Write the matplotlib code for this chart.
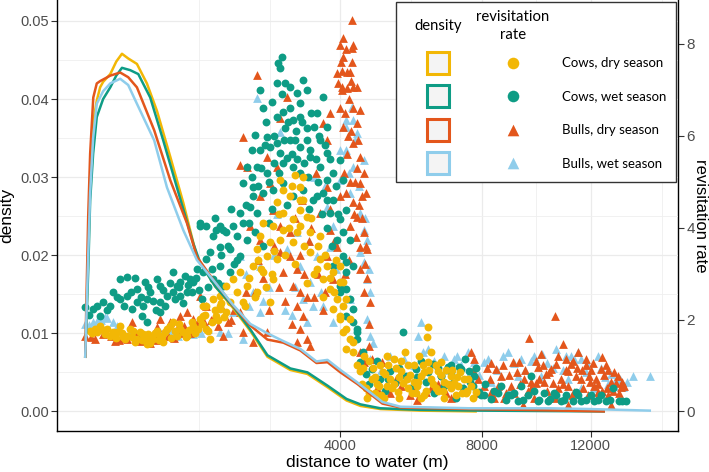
import matplotlib
matplotlib.use("Agg")
import matplotlib.pyplot as plt
import numpy as np
from matplotlib.patches import Rectangle

plt.rcParams['font.family'] = ['Liberation Sans', 'DejaVu Sans']

# colours of the four groups
col_cows_dry = "#F2B705"
col_cows_wet = "#0E9C85"
col_bulls_dry = "#E3561C"
col_bulls_wet = "#8FCDEB"

SCALE = 170  # revisitation rate = density * SCALE (secondary axis)

# ---------------- revisitation rate points (distance m, rate) ----------------
cows_dry_dist = [287, 332, 353, 404, 427, 482, 506, 532, 566, 621, 658, 716, 756, 766, 818, 862,
                 895, 928, 974, 1045, 1094, 1130, 1219, 1298, 1392, 1434, 1476, 1534, 1622, 1683, 1775,
                 300, 320, 370, 390, 450, 470, 520, 550, 590, 610, 640, 680, 700, 730, 780, 800, 840,
                 880, 910, 950, 1000, 1020, 1070, 1110, 1160, 1200, 1240, 1280, 1320, 1360, 1420, 1460,
                 1500, 1560, 1600, 1650, 1700, 1740,
                 1434, 1476, 1578, 1683, 1683, 1775, 1838, 1886, 1951, 2000, 2050, 2117, 2221, 2291,
                 2291, 2345, 2399, 2399, 2473, 2528, 2528, 2585, 2585, 2660, 2660, 2718, 2718, 2776,
                 2776, 2776, 2914, 2975, 2975, 3015, 3117, 3117, 3117, 3180, 3180, 3264, 3328, 3328,
                 3479, 3545, 3545, 3611, 3702, 3769, 3837, 3837, 3929, 4000, 4000, 4000, 4000, 4071,
                 4071, 4071, 4142, 4142, 4142, 4237, 4237, 4310, 4310, 4408,
                 2150, 2250, 2350, 2450, 2600, 2700, 2800, 2880, 2950, 3050, 3100, 3200, 3350, 3400,
                 3500, 3600, 3650, 3750, 3850, 3900, 2080, 2300, 2550, 3250, 3000,
                 4482, 4632, 4784, 4991, 5170, 5337, 5528, 5723, 5723, 5893, 6093, 6268, 6298, 6298,
                 6385, 6594, 6685, 6777, 6991, 7209, 7400, 7624, 4861, 5122, 5446, 5950, 6534, 7148,
                 7464, 7787, 4550, 4700, 4900, 5050, 5250, 5400, 5600, 5800, 6000, 6150, 6400, 6600,
                 6850, 7000, 7300, 7500, 4650, 5000, 5500, 6200, 6800, 7100, 5150, 5650, 6050,
                 4520, 4580, 4700, 4800, 4950, 5080, 5200, 5300, 5480, 5550, 5700, 5850, 5900, 6020,
                 6180, 6250, 6350, 6450, 6550, 6700, 6750, 6900, 7050, 7200, 7350, 7550, 7700, 4850,
                 5350, 6100]
cows_dry_rate = [1.75, 1.73, 1.86, 1.80, 1.65, 1.73, 1.86, 1.62, 1.65, 1.75, 1.58, 1.69, 1.47, 1.69,
                 1.58, 1.75, 1.65, 1.52, 1.80, 1.95, 1.65, 1.80, 1.65, 1.86, 2.01, 2.29, 1.80, 1.58,
                 2.08, 2.29, 2.16,
                 1.70, 1.80, 1.78, 1.68, 1.72, 1.60, 1.70, 1.58, 1.80, 1.62, 1.52, 1.72, 1.55, 1.60,
                 1.50, 1.62, 1.70, 1.55, 1.65, 1.72, 1.85, 1.60, 1.75, 1.90, 1.72, 1.62, 1.78, 1.95,
                 1.70, 1.80, 1.90, 2.10, 1.75, 1.95, 2.20, 2.00, 2.35, 2.05,
                 2.08, 2.29, 2.45, 2.51, 2.23, 2.73, 2.38, 2.88, 2.60, 3.03, 2.38, 2.73, 3.16, 3.53,
                 2.60, 3.81, 4.11, 3.03, 3.38, 3.68, 2.38, 4.03, 2.88, 4.55, 3.31, 5.04, 3.74, 4.83,
                 4.33, 3.96, 4.68, 4.18, 3.68, 5.15, 4.89, 4.39, 4.03, 5.11, 4.61, 4.24, 3.90, 3.46,
                 3.10, 3.81, 3.31, 2.88, 3.16, 2.66, 3.03, 2.23, 2.45, 3.16, 2.81, 2.08, 2.01, 2.81,
                 2.29, 1.73, 2.45, 1.80, 1.36, 2.01, 1.58, 1.52, 1.30, 1.00,
                 2.90, 2.50, 3.10, 2.70, 3.50, 4.30, 3.40, 4.00, 4.90, 3.90, 4.60, 3.60, 4.20, 3.00,
                 3.60, 2.50, 3.40, 2.90, 2.60, 3.30, 2.30, 3.30, 3.00, 2.80, 3.20,
                 0.87, 0.50, 0.71, 1.00, 0.56, 1.15, 0.87, 1.00, 0.50, 0.65, 0.78, 1.62, 1.84, 1.08,
                 1.30, 0.87, 1.08, 0.65, 0.78, 0.56, 0.71, 0.56, 0.39, 0.82, 0.43, 0.39, 0.50, 0.35,
                 0.39, 0.43, 0.95, 1.10, 0.60, 0.85, 0.70, 0.95, 0.62, 0.80, 0.55, 1.00, 0.70, 0.45,
                 0.90, 0.50, 0.85, 0.45, 0.30, 0.35, 0.30, 0.35, 0.30, 0.62, 1.20, 1.30, 1.20,
                 0.60, 1.20, 0.40, 0.95, 0.55, 0.30, 1.00, 0.50, 0.75, 1.10, 0.70, 0.40, 1.00, 0.65,
                 0.85, 0.45, 0.90, 0.60, 1.00, 0.80, 0.45, 0.60, 0.90, 0.75, 0.40, 0.70, 0.30, 0.75,
                 0.60, 0.30]

cows_wet_dist = [257, 306, 353, 374, 427, 451, 506, 506, 566, 566, 611, 658, 658, 707, 716, 736,
                 756, 756, 787, 862, 895, 895, 895, 974, 1045, 1045, 1094, 1130, 1130, 1193, 1219,
                 1258, 1298, 1351,
                 280, 330, 400, 480, 540, 600, 640, 690, 760, 820, 850, 920, 950, 1000, 1060, 1120,
                 1160, 1230, 1280, 1330, 1380, 1420, 1500, 1560, 1650,
                 1392, 1392, 1434, 1476, 1476, 1534, 1578, 1578, 1622, 1683, 1683, 1683, 1729, 1729,
                 1775, 1838, 1838, 1886, 1951, 2000, 2000, 2050, 2050, 2117, 2117, 2169, 2204, 2221,
                 2221, 2256, 2291, 2291, 2345, 2345, 2399, 2399, 2473, 2473, 2528, 2566, 2585, 2660,
                 2660, 2680, 2718, 2718, 2757, 2776, 2776, 2776, 2815, 2815, 2855, 2914, 2914, 2975,
                 2975, 2975, 3056, 3117, 3117, 3117, 3180, 3180, 3264, 3264, 3328, 3328, 3392, 3479,
                 3479, 3545, 3545, 3611, 3611, 3702, 3702, 3702, 3769, 3837, 3837, 3837, 3929, 4000,
                 4000, 4000, 4000, 4071, 4071, 4071, 4142, 4142, 4142, 4142, 4142, 4237, 4237, 4310,
                 4310, 4310, 4408, 4408, 4408, 4482,
                 2440, 2600, 2900, 3050, 3250, 3400, 3650, 2750, 3150, 3500, 2300, 2560, 2850, 3300,
                 3700, 2150, 1950, 1800, 2600, 3000,
                 2100, 2200, 2350, 2420, 2500, 2650, 2700, 2790, 2870, 2950, 3020, 3100, 3200, 3280,
                 3350, 3450, 3520, 3580, 3680, 3750, 3800, 3900, 3950, 1850, 1900, 1700, 1600, 2250,
                 2400, 2500,
                 4607, 4784, 4991, 5256, 5391, 5584, 5667, 5950, 6238, 6445, 6685, 6898, 7053, 7241,
                 7368, 7559, 7722, 7885, 8051, 8284, 8522, 8625, 8867, 9220, 9327, 9579, 9688, 9946,
                 10168, 10318, 10545, 10812, 11280, 11597, 12122, 12616, 13163, 13461, 7951, 8972,
                 11005, 11398, 11999, 12408, 12907, 6991, 7304, 6685,
                 5100, 5800, 6500, 7150, 7700, 7800, 6100, 7450,
                 4550, 4700, 4900, 5200, 5500, 6000, 6300, 6600, 6800, 7000, 7600, 8100, 8400, 8800,
                 9100, 9400, 9800, 10000, 10400, 10650, 10950, 11500, 11800, 12300, 12800, 13300]
cows_wet_rate = [2.27, 2.23, 2.08, 2.38, 2.29, 2.60, 2.88, 2.45, 2.92, 2.51, 2.23, 2.38, 2.66, 2.08,
                 2.29, 2.81, 1.95, 2.45, 2.60, 2.88, 2.16, 2.38, 2.73, 2.51, 3.03, 2.60, 2.73, 2.51,
                 2.81, 2.94, 2.60, 2.88, 2.81, 3.10,
                 2.10, 2.30, 2.20, 2.50, 2.30, 2.60, 2.90, 2.50, 2.70, 2.40, 2.20, 2.65, 2.30, 2.80,
                 2.45, 2.70, 2.35, 2.75, 2.60, 2.90, 2.65, 2.45, 2.70, 3.10, 2.80,
                 4.11, 4.03, 3.03, 4.03, 3.31, 3.46, 3.81, 2.88, 3.96, 4.03, 3.59, 3.16, 3.96, 2.73,
                 3.90, 3.53, 3.03, 4.03, 3.81, 4.33, 3.38, 4.98, 4.11, 5.32, 3.74, 4.46, 5.69, 4.89,
                 4.68, 6.02, 5.32, 4.33, 6.99, 5.69, 6.60, 4.76, 5.97, 5.19, 5.76, 6.73, 4.83, 7.14,
                 5.84, 7.58, 7.47, 5.63, 7.71, 6.52, 5.41, 4.98, 7.16, 6.17, 5.52, 7.06, 5.91, 6.34,
                 5.32, 4.68, 6.93, 6.71, 5.76, 5.19, 7.21, 4.83, 6.99, 6.17, 5.69, 5.54, 4.61, 6.49,
                 4.68, 5.91, 5.32, 6.84, 4.76, 6.19, 5.63, 5.04, 4.33, 5.19, 4.61, 3.16, 3.74, 5.48,
                 4.18, 2.73, 2.60, 5.04, 3.90, 3.38, 4.39, 3.25, 3.03, 2.66, 2.08, 3.74, 2.45, 3.16,
                 2.23, 1.95, 1.80, 1.73, 1.58, 1.08,
                 6.30, 6.00, 6.60, 5.50, 5.90, 6.20, 5.80, 6.90, 6.30, 5.00, 4.90, 4.40, 4.50, 4.40,
                 4.60, 4.10, 3.30, 3.60, 5.40, 5.90,
                 4.50, 5.10, 5.30, 5.80, 5.00, 6.40, 5.20, 5.90, 6.30, 5.60, 6.10, 6.40, 5.40, 5.10,
                 6.50, 5.50, 6.00, 4.30, 4.00, 5.50, 3.60, 4.90, 4.30, 4.40, 3.20, 3.40, 4.20, 3.90,
                 3.60, 4.10,
                 0.82, 0.93, 0.71, 0.89, 0.61, 1.73, 0.78, 0.93, 0.65, 1.04, 0.76, 0.97, 0.61, 0.97,
                 0.50, 0.89, 0.78, 0.43, 0.35, 0.28, 0.39, 0.56, 0.35, 0.22, 0.56, 0.35, 0.76, 0.22,
                 0.39, 0.22, 0.39, 0.22, 0.22, 0.22, 0.22, 0.22, 0.22, 0.22, 0.35, 0.35,
                 0.35, 0.43, 0.35, 0.35, 0.50, 1.00, 0.93, 0.78,
                 0.45, 0.50, 0.40, 0.30, 0.55, 0.95, 1.10, 1.15,
                 1.30, 0.60, 1.10, 0.70, 0.95, 0.75, 0.85, 0.95, 0.55, 0.85, 0.65, 0.60, 0.45, 0.25,
                 0.40, 0.25, 0.45, 0.25, 0.28, 0.35, 0.25, 0.35, 0.25, 0.25, 0.25, 0.22]

bulls_dry_dist = [257, 319, 374, 466, 566, 611, 687, 756, 818, 862, 895, 1009, 1094, 1130, 1219,
                  1298, 1392, 1476, 1729, 530, 650, 780, 950, 1050, 1180, 1350, 1550, 1650, 1800,
                  1900, 1250, 290, 430, 500, 720, 850, 980, 1150, 1300, 1450, 1600, 1700, 1850,
                  2000, 2000, 2050, 2050, 2117, 2169, 2221, 2291, 2345, 2345, 2473, 2473, 2528, 2585,
                  2660, 2718, 2718, 2718, 2776, 2855, 2914, 2975, 3056, 3056, 3056, 3117, 3117, 3180,
                  3264, 3328, 3545, 3611, 3702, 3702, 3702, 3769, 3769, 3837, 3929, 3929,
                  2400, 2600, 2800, 3000, 3200, 3400, 3300, 2250, 2950, 3150, 3450, 3600,
                  2100, 2300, 2500, 2700, 2900, 3100, 3250, 3350, 3500, 3650, 3750, 3850,
                  3953, 4000, 4047, 4047, 4047, 4071, 4071, 4142, 4166, 4166, 4237, 4237, 4286, 4286,
                  4286, 4310, 4310, 4310, 4310, 4408, 4408, 4408, 4482, 4482, 4482, 4482, 4557, 4557,
                  4607, 4657, 4733,
                  4100, 4200, 4250, 4350, 4400, 4450, 4520, 4600, 4650, 4700, 4150, 4050, 4300, 4380,
                  4200, 4100, 4000, 3980,
                  4020, 4080, 4120, 4180, 4220, 4260, 4330, 4420, 4460, 4530, 4580, 4620,
                  4482, 4557, 4683, 4784, 5043, 5256, 5528, 5893, 6238, 6385, 6838, 7624, 7722, 7852,
                  8051, 8284, 8625, 8972, 9043, 9256, 9399, 9436, 9615, 9688, 9946, 10168, 10431,
                  10582, 10620, 10697, 11005, 11084, 11084, 11201, 11319, 11597, 11876, 11917, 12122,
                  12285, 12408, 12449, 12616, 12699, 12824, 12824, 13035, 13120, 13246, 8454, 8797,
                  9871, 10243, 10812, 11398, 11796, 12203, 10056, 10890,
                  8150, 8400, 8700, 9100, 9500, 9800, 10300, 10500, 10700, 11100, 11450, 11700, 12000,
                  12300, 12550, 12900, 13300, 9300, 10000, 11300, 11800, 12100, 12700, 8900, 9600,
                  13400, 5400, 6000, 6600, 7000, 7400,
                  7700, 7900, 8250, 8550, 8750, 9200, 9700, 10150, 10350, 10600, 11000, 11250, 11650,
                  11950, 12250, 12650, 12950, 13150, 9900, 10900, 11500, 12450, 8300, 4900, 5800]
bulls_dry_rate = [1.65, 1.58, 1.69, 1.54, 1.58, 1.95, 1.54, 1.62, 1.65, 1.84, 2.01, 1.95, 1.80,
                  2.08, 2.16, 2.01, 2.51, 2.29, 1.65, 1.60, 1.70, 1.50, 1.75, 1.60, 1.85, 1.90,
                  2.00, 1.85, 1.95, 2.20, 1.70, 1.62, 1.65, 1.55, 1.60, 1.55, 1.65, 1.70, 1.85,
                  1.95, 2.10, 2.30, 2.00,
                  5.37, 2.16, 5.97, 1.73, 5.32, 4.03, 1.52, 7.32, 4.68, 3.74, 5.54, 1.73, 4.98, 4.39,
                  5.32, 6.39, 4.03, 3.46, 3.03, 6.84, 3.38, 2.73, 3.10, 2.29, 1.52, 2.60, 1.80, 2.08,
                  1.58, 1.43, 4.33, 6.28, 5.91, 4.89, 3.38, 6.49, 3.96, 2.88, 7.36, 3.59,
                  2.90, 3.60, 2.40, 4.20, 3.00, 2.50, 3.70, 2.60, 1.90, 4.60, 5.20, 2.20,
                  2.60, 3.30, 2.20, 2.70, 3.90, 3.40, 2.50, 4.00, 3.00, 2.60, 4.40, 3.70,
                  7.16, 7.97, 7.42, 7.06, 6.99, 8.14, 7.71, 4.76, 7.38, 7.03, 7.38, 4.03, 8.53, 7.92,
                  7.60, 7.97, 7.06, 5.84, 4.55, 7.06, 6.28, 4.24, 6.56, 5.54, 4.98, 3.59, 5.19, 3.90,
                  4.76, 3.53, 2.38,
                  6.50, 6.80, 6.10, 5.00, 5.30, 4.50, 4.20, 3.20, 2.90, 1.90, 5.60, 6.20, 6.60, 3.80,
                  3.30, 3.00, 6.60, 4.70,
                  7.60, 5.20, 7.90, 6.00, 5.00, 7.20, 4.30, 5.90, 3.10, 4.70, 2.60, 3.60,
                  1.30, 1.08, 1.43, 1.15, 1.08, 0.39, 0.56, 0.50, 0.43, 0.50, 0.39, 1.30, 1.15, 0.71,
                  0.56, 0.43, 0.76, 0.56, 1.08, 1.08, 0.13, 0.71, 1.60, 0.50, 0.97, 0.65, 0.93,
                  2.08, 1.04, 0.50, 1.15, 0.87, 0.13, 1.04, 0.43, 0.71, 0.35, 0.78, 0.56,
                  0.43, 0.93, 1.19, 1.00, 0.35, 0.65, 0.13, 0.61, 0.78, 0.54, 0.93, 0.39,
                  0.61, 0.82, 0.71, 0.78, 1.00, 0.71, 1.26, 1.47,
                  0.95, 0.30, 1.00, 0.40, 0.90, 0.30, 0.45, 0.62, 1.20, 0.55, 0.95, 0.50, 0.90,
                  0.60, 0.80, 0.45, 0.65, 0.60, 0.70, 1.10, 1.15, 1.05, 0.90, 0.80, 0.45,
                  0.55, 0.70, 0.25, 0.60, 0.30, 0.50,
                  0.90, 0.40, 0.70, 0.55, 0.30, 0.85, 0.65, 1.00, 0.85, 0.30, 0.90, 0.35, 0.90,
                  0.65, 0.30, 0.50, 0.85, 0.40, 1.10, 0.60, 1.30, 0.45, 1.05, 0.50, 0.35]

bulls_wet_dist = [257, 306, 332, 389, 404, 451, 895, 1298, 1683, 600, 1100, 1500, 1800,
                  280, 360, 480, 700, 1000, 1400,
                  1886, 2000, 2050, 2221, 2291, 2345, 2345, 2718, 2855, 3117, 3180, 3264, 3328, 3392,
                  3479, 3702, 3769, 3837, 3837, 4000, 4000,
                  2500, 2650, 2950, 3050, 3550, 3650, 2150, 3400,
                  2100, 2400, 2600, 2800, 3000, 3300, 3600, 3900,
                  4142, 4142, 4142, 4142, 4237, 4237, 4286, 4310, 4310, 4408, 4482, 4482, 4557, 4557,
                  4557, 4657, 4657, 4657, 4733, 4733, 4200, 4350, 4450, 4600, 4700,
                  4733, 5256, 5611, 6007, 6093, 6150, 6777, 7084, 7304, 7527, 7722, 8051, 8284, 8867,
                  9220, 9327, 9688, 10056, 10620, 11084, 11319, 11597, 11597, 11876, 12122, 12824,
                  12950, 13331, 13763, 14510,
                  8500, 9000, 9500, 10300, 10900, 11200, 12400, 12700, 13050, 5000, 5900, 6500, 7900,
                  4800, 5500, 6300, 6900, 7200, 7600, 8200, 8700, 9100, 9800, 10100, 10500, 11000,
                  11500, 11800, 12300, 12600, 13200, 13500]
bulls_wet_rate = [1.90, 1.95, 1.97, 2.06, 2.03, 1.95, 1.73, 1.69, 1.73, 1.75, 1.65, 1.80, 1.70,
                  1.88, 2.00, 1.85, 1.70, 1.75, 1.70,
                  2.16, 3.38, 1.58, 2.60, 6.82, 3.16, 2.16, 6.08, 3.53, 3.16, 2.45, 1.95, 2.81, 2.29,
                  3.38, 4.46, 3.59, 4.03, 1.95, 5.69, 5.04,
                  2.70, 4.30, 2.10, 3.90, 2.60, 4.90, 2.30, 5.10,
                  3.00, 2.40, 3.40, 2.20, 2.70, 3.70, 2.30, 3.10,
                  6.34, 6.19, 5.69, 5.63, 4.76, 2.45, 6.62, 6.34, 5.32, 6.06, 4.33, 3.46, 5.48, 3.96,
                  3.25, 3.74, 2.88, 2.01, 2.60, 1.65, 5.20, 5.90, 4.90, 4.20, 3.10,
                  1.15, 1.21, 1.15, 1.65, 1.95, 1.30, 1.21, 1.15, 1.00, 1.30, 1.08, 1.08, 0.65, 1.30,
                  0.78, 1.15, 1.10, 0.78, 1.36, 0.71, 1.15, 1.15, 0.50, 1.00, 0.50, 0.82,
                  0.56, 0.54, 0.78, 0.78,
                  0.90, 0.50, 0.90, 1.05, 0.90, 1.20, 0.95, 0.60, 0.70, 0.90, 1.00, 1.10, 0.80,
                  1.50, 0.80, 1.35, 0.90, 1.20, 0.85, 1.15, 1.20, 1.05, 1.20, 1.25, 0.95, 1.20,
                  1.30, 0.85, 1.20, 0.75, 0.70, 0.65]

# ---------------- density curves ----------------
dens_cows_dry_x = [257, 275, 287, 306, 330, 353, 374, 427, 474, 521, 575, 655, 753, 858, 1009,
                   1168, 1345, 1607, 1886, 2169, 2473, 2914, 3264, 3702, 4142, 4482, 4991, 6093, 7787]
dens_cows_dry_y = [0.0070, 0.0200, 0.0300, 0.0370, 0.0398, 0.0415, 0.0422, 0.0432, 0.0448, 0.0458,
                   0.0452, 0.0445, 0.0420, 0.0385, 0.0326, 0.0267, 0.0198, 0.0160, 0.0132, 0.0103,
                   0.0070, 0.0053, 0.0048, 0.0031, 0.0014, 0.0007, 0.0003, 0.0001, 0.0000]

dens_cows_wet_x = [257, 275, 287, 306, 330, 374, 427, 474, 521, 593, 668, 787, 928, 1088, 1298,
                   1392, 1607, 1886, 2169, 2473, 2914, 3264, 3702, 4142, 4482, 4991, 6093, 7951, 12530]
dens_cows_wet_y = [0.0070, 0.0180, 0.0270, 0.0330, 0.0377, 0.0400, 0.0415, 0.0430, 0.0440, 0.0437,
                   0.0432, 0.0402, 0.0347, 0.0287, 0.0215, 0.0190, 0.0160, 0.0134, 0.0105, 0.0072,
                   0.0055, 0.0050, 0.0033, 0.0016, 0.0009, 0.0004, 0.0002, 0.0001, 0.0000]

dens_bulls_dry_x = [257, 275, 287, 307, 330, 353, 427, 506, 575, 655, 829, 1009, 1215, 1345, 1607,
                    1886, 2169, 2473, 2776, 3117, 3458, 3702, 4000, 4408, 4733, 5043, 5528, 7624,
                    9327, 12530]
dens_bulls_dry_y = [0.0070, 0.0250, 0.0330, 0.0402, 0.0420, 0.0423, 0.0430, 0.0434, 0.0428, 0.0415,
                    0.0360, 0.0296, 0.0241, 0.0198, 0.0165, 0.0135, 0.0110, 0.0092, 0.0088, 0.0078,
                    0.0062, 0.0063, 0.0050, 0.0035, 0.0022, 0.0010, 0.0005, 0.0003, 0.0002, 0.0000]

dens_bulls_wet_x = [257, 275, 287, 306, 330, 374, 427, 506, 575, 655, 829, 970, 1168, 1345, 1607,
                    1886, 2169, 2473, 2776, 3117, 3458, 3702, 4000, 4408, 4733, 5043, 5528, 7624,
                    10431, 11999, 14510]
dens_bulls_wet_y = [0.0070, 0.0200, 0.0280, 0.0350, 0.0394, 0.0410, 0.0420, 0.0426, 0.0418, 0.0394,
                    0.0347, 0.0287, 0.0232, 0.0194, 0.0165, 0.0136, 0.0112, 0.0100, 0.0090, 0.0080,
                    0.0064, 0.0066, 0.0053, 0.0037, 0.0024, 0.0012, 0.0006, 0.0004, 0.0004, 0.0003,
                    0.0001]

group_labels = ["Cows, dry season", "Cows, wet season", "Bulls, dry season", "Bulls, wet season"]
x_ticks = [4000, 8000, 12000]
y_ticks = [0.00, 0.01, 0.02, 0.03, 0.04, 0.05]
rate_ticks = [0, 2, 4, 6, 8]


def fwd(x):
    return np.sqrt(np.clip(x, 0, None))


def inv(x):
    return np.square(x)


fig = plt.figure(figsize=(7.09, 4.72), dpi=100)
ax = fig.add_axes([57 / 709, 41 / 472, 621 / 709, 431 / 472])
ax.set_xscale('function', functions=(fwd, inv))

# points first (bulls wet at the bottom, cows dry on top)
pts = [(bulls_wet_dist, bulls_wet_rate, col_bulls_wet, '^', 40),
       (bulls_dry_dist, bulls_dry_rate, col_bulls_dry, '^', 40),
       (cows_wet_dist, cows_wet_rate, col_cows_wet, 'o', 32),
       (cows_dry_dist, cows_dry_rate, col_cows_dry, 'o', 32)]
for d, r, c, m, s in pts:
    ax.scatter(d, np.array(r) / SCALE, color=c, marker=m, s=s, linewidths=0, zorder=2)

lines = [(dens_cows_dry_x, dens_cows_dry_y, col_cows_dry),
         (dens_cows_wet_x, dens_cows_wet_y, col_cows_wet),
         (dens_bulls_dry_x, dens_bulls_dry_y, col_bulls_dry),
         (dens_bulls_wet_x, dens_bulls_wet_y, col_bulls_wet)]
for x, y, c in lines:
    ax.plot(x, y, color=c, lw=1.8, zorder=3, solid_joinstyle='round')

# limits like ggplot: 5% expansion in transformed space
all_d = np.concatenate([cows_dry_dist, cows_wet_dist, bulls_dry_dist, bulls_wet_dist])
lo, hi = np.sqrt(all_d.min()), np.sqrt(all_d.max())
pad = 0.05 * (hi - lo)
ax.set_xlim((lo - pad) ** 2, (hi + pad) ** 2)
all_r = np.concatenate([cows_dry_rate, cows_wet_rate, bulls_dry_rate, bulls_wet_rate])
ymax = max(all_r.max() / SCALE, max(dens_cows_dry_y))
ax.set_ylim(-0.05 * ymax, 1.05 * ymax)

# breaks; minor breaks are midpoints in sqrt space
ax.set_xticks(x_ticks)
ax.set_xticklabels([str(v) for v in x_ticks])
sq = np.sqrt(x_ticks)
step = sq[1] - sq[0]
ext = np.concatenate([[sq[0] - step], sq, [sq[-1] + step]])
minor_sq = np.concatenate([(ext[:-1] + ext[1:]) / 2, [ext[0]]])
ax.set_xticks(minor_sq ** 2, minor=True)
ax.set_yticks(y_ticks)
ax.set_yticklabels(["%.2f" % v for v in y_ticks])
ax.set_yticks(np.arange(0.005, 0.05, 0.01), minor=True)

ax.grid(which='major', color='#EBEBEB', lw=0.9)
ax.grid(which='minor', color='#EFEFEF', lw=0.6)
ax.set_axisbelow(True)
ax.tick_params(which='minor', length=0)
ax.tick_params(which='major', length=4, width=0.8, color='#333333', labelsize=10.5,
               labelcolor='#4D4D4D', pad=2)
for side in ['top', 'right']:
    ax.spines[side].set_visible(False)
for side in ['left', 'bottom']:
    ax.spines[side].set_color('black')
    ax.spines[side].set_linewidth(1.0)

ax.set_xlabel("distance to water (m)", fontsize=12.5, labelpad=1)
ax.set_ylabel("density", fontsize=12.5, labelpad=4)

sec = ax.secondary_yaxis('right', functions=(lambda d: d * SCALE, lambda r: r / SCALE))
sec.set_yticks(rate_ticks)
sec.tick_params(length=4, width=0.8, color='#333333', labelsize=11, labelcolor='#4D4D4D', pad=2)
sec.spines['right'].set_color('black')
sec.spines['right'].set_linewidth(1.0)
sec.set_ylabel("revisitation rate", fontsize=12, rotation=270, va='center', ha='center')
sec.yaxis.set_label_coords(701 / 709, (41 + 215.5) / 472, transform=fig.transFigure)

# legend box drawn by hand (two columns of keys)
lax = fig.add_axes([396 / 709, 1 - 182 / 472, 280 / 709, 180 / 472])
lax.set_xlim(0, 280)
lax.set_ylim(180, 0)
lax.axis('off')
lax.add_patch(Rectangle((0, 0), 280, 180, facecolor='white', edgecolor='#333333', lw=1.0,
                        clip_on=False))
lfont = ['Lato', 'DejaVu Sans']
lax.text(42, 24, "density", ha='center', va='center', fontsize=10.7, family=lfont)
lax.text(117, 24, "revisitation\nrate", ha='center', va='center', fontsize=10.7, family=lfont,
         linespacing=1.3)
row_y = [61, 94, 128, 161]
key_cols = [col_cows_dry, col_cows_wet, col_bulls_dry, col_bulls_wet]
key_marks = ['o', 'o', '^', '^']
for yy, c, m, lab in zip(row_y, key_cols, key_marks, group_labels):
    lax.add_patch(Rectangle((31, yy - 11), 22, 22, facecolor='#F4F4F4', edgecolor=c, lw=2.2))
    lax.scatter([117], [yy], color=c, marker=m, s=70, linewidths=0)
    lax.text(166, yy, lab, ha='left', va='center', fontsize=9.5, family=lfont)

fig.savefig("out.png", dpi=100)
